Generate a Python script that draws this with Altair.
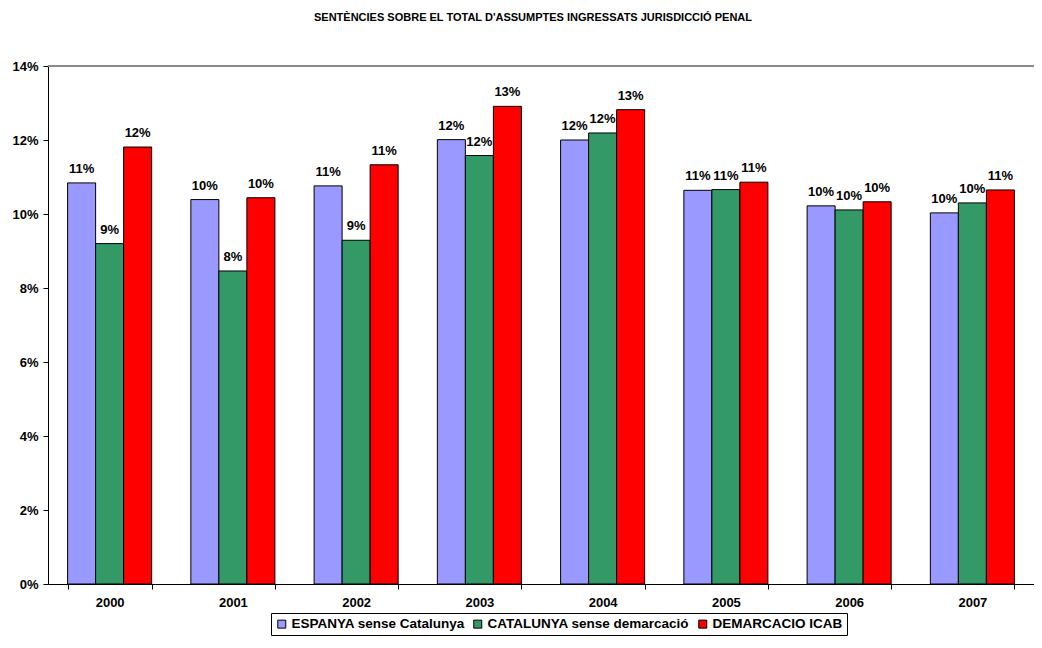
import altair as alt
import pandas as pd

years = ["2000", "2001", "2002", "2003", "2004", "2005", "2006", "2007"]
series = ["ESPANYA sense Catalunya", "CATALUNYA sense demarcació", "DEMARCACIO ICAB"]
espanya = [10.84, 10.39, 10.76, 12.01, 12.00, 10.64, 10.22, 10.03]
catalunya = [9.20, 8.46, 9.29, 11.58, 12.19, 10.66, 10.11, 10.30]
icab = [11.81, 10.44, 11.33, 12.91, 12.82, 10.86, 10.33, 10.65]
colors = ["#9999FF", "#339966", "#FF0000"]
y_ticks = [0, 2, 4, 6, 8, 10, 12, 14]

rows = []
for s, vals in zip(series, [espanya, catalunya, icab]):
    for y, v in zip(years, vals):
        rows.append({"year": y, "series": s, "value": v})
df = pd.DataFrame(rows)

FONT = "Liberation Sans"

x_enc = alt.X("year:N", sort=years, title=None,
              scale=alt.Scale(paddingInner=0.318, paddingOuter=0.159),
              axis=alt.Axis(labelAngle=0, labelFont=FONT, labelFontSize=13,
                            labelFontWeight="bold", labelColor="black",
                            domainColor="black", tickColor="black", tickSize=5,
                            tickBand="extent", labelPadding=7))
xo_enc = alt.XOffset("series:N", sort=series,
                     scale=alt.Scale(paddingInner=0, paddingOuter=0))
y_enc = alt.Y("value:Q", title=None,
              scale=alt.Scale(domain=[0, 14], nice=False),
              axis=alt.Axis(values=y_ticks, labelExpr="datum.value + '%'",
                            labelFont=FONT, labelFontSize=13, labelFontWeight="bold",
                            labelColor="black", domainColor="black", tickColor="black",
                            tickSize=5, grid=False, labelPadding=5))
color_enc = alt.Color("series:N", sort=series,
                      scale=alt.Scale(domain=series, range=colors),
                      legend=alt.Legend(title=None, orient="none", direction="horizontal",
                                        legendX=223, legendY=547,
                                        symbolType="square", symbolSize=64,
                                        symbolStrokeColor="black", symbolStrokeWidth=1,
                                        labelFont=FONT, labelFontSize=13.5,
                                        labelFontWeight="bold", labelColor="black",
                                        labelOffset=3, columnPadding=6,
                                        strokeColor="black", fillColor="white",
                                        padding=4, labelLimit=400))

base = alt.Chart(df)

bars = base.mark_bar(stroke="black", strokeWidth=1).encode(
    x=x_enc, xOffset=xo_enc, y=y_enc, color=color_enc
)

labels = base.transform_calculate(
    label="format(datum.value, '.0f') + '%'"
).mark_text(font=FONT, fontSize=13, fontWeight="bold", color="black",
            baseline="alphabetic", dy=-10).encode(
    x=alt.X("year:N", sort=years), xOffset=xo_enc, y="value:Q", text="label:N"
)

top_line = alt.Chart(pd.DataFrame({"v": [14]})).mark_rule(
    color="#8c8c8c", strokeWidth=2
).encode(y=alt.Y("v:Q"))

chart = alt.layer(top_line, bars, labels).properties(
    width=986, height=518,
    autosize=alt.AutoSizeParams(type="none"),
    padding={"left": 40, "top": 58, "right": 0, "bottom": 52},
    title=alt.TitleParams(
        "SENTÈNCIES SOBRE EL TOTAL D'ASSUMPTES INGRESSATS JURISDICCIÓ PENAL",
        font=FONT, fontSize=11, fontWeight="bold", color="black",
        anchor="middle", offset=37, dx=-8)
).configure_view(stroke=None).configure(background="white")

chart.save("out.html", embed_options={"renderer": "svg", "actions": False})
